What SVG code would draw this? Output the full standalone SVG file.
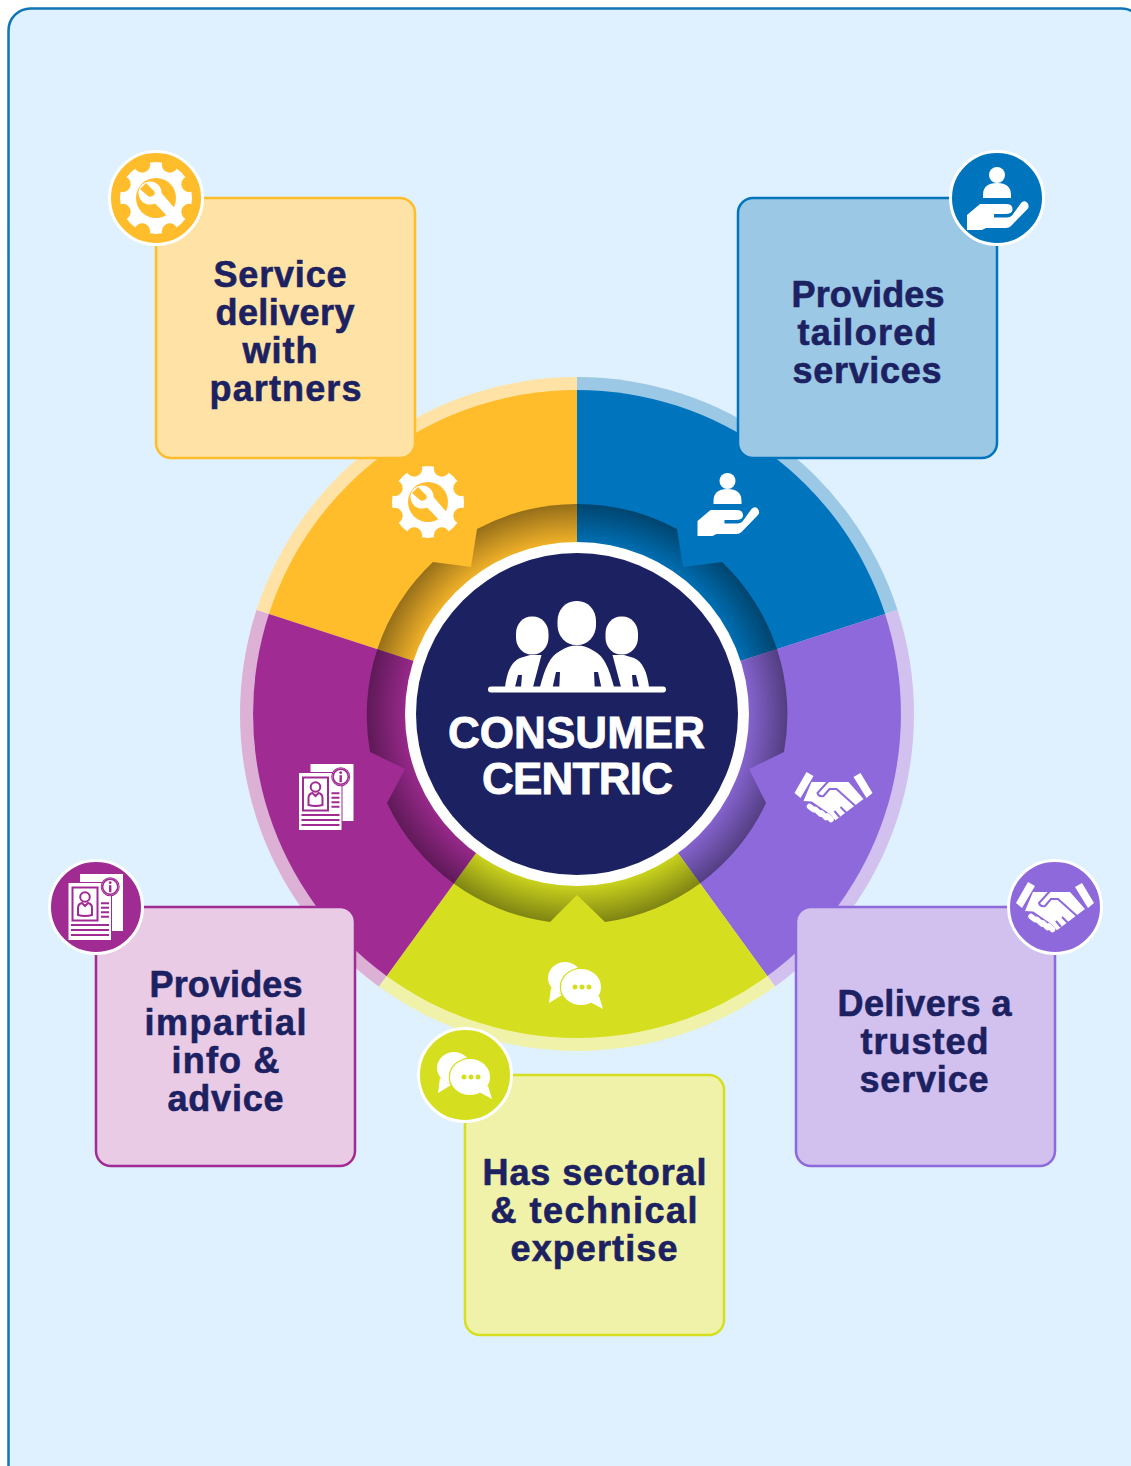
<svg xmlns="http://www.w3.org/2000/svg" width="1131" height="1466" viewBox="0 0 1131 1466">
<style>
.lbl{font-family:"Liberation Sans",Arial,sans-serif;font-weight:700;font-size:36px;fill:#1C2161;stroke:#1C2161;stroke-width:.6;text-anchor:middle}
.ctr{font-family:"Liberation Sans",Arial,sans-serif;font-weight:700;font-size:44px;fill:#fff;stroke:#fff;stroke-width:.8;text-anchor:middle}
.box{stroke-width:2.5}
.w{fill:#fff}
.cut{fill:currentColor}
.cs{fill:none;stroke:currentColor}
.wl{fill:none;stroke:#fff;stroke-linecap:round}
</style>
<defs>
<radialGradient id="shade" gradientUnits="userSpaceOnUse" cx="577" cy="714" r="212">
<stop offset="0.8" stop-color="#000" stop-opacity="0.04"/>
<stop offset="1" stop-color="#000" stop-opacity="0.43"/>
</radialGradient>
<g id="i-gear">
<circle class="w" r="36"/>
<g class="cut">
<circle cx="13.8" cy="-33.3" r="8"/><circle cx="33.3" cy="-13.8" r="8"/><circle cx="33.3" cy="13.8" r="8"/><circle cx="13.8" cy="33.3" r="8"/>
<circle cx="-13.8" cy="33.3" r="8"/><circle cx="-33.3" cy="13.8" r="8"/><circle cx="-33.3" cy="-13.8" r="8"/><circle cx="-13.8" cy="-33.3" r="8"/>
<circle r="20"/>
</g>
<circle class="w" cx="-6" cy="-5" r="11.5"/>
<path class="w" d="M-9-3L2-9L21 13L14 21Z"/>
<path class="cut" d="M-10-15L-16-9L-8-2Q-5 0-2-3Q0-6-3-8Z"/>
<path class="w" d="M8 2L13 7L20 14L15 19L4 8Z"/>
</g>
<g id="i-hand">
<circle class="w" cy="-23" r="8"/>
<path class="w" d="M-14 0V-3Q-14-15 0-15Q14-15 14-3V0Z"/>
<path class="w" d="M-30 17L-17 6H9Q16 6 15.500 12Q15 16 8 16H-3V19.500H10Q13 19.500 15 17.500L24 5Q27 2 30 4.500Q33 8 30.500 11L14 28Q12 30 9 30H-11L-15 32H-30Z"/>
</g>
<g id="i-doc">
<rect class="w" x="-16" y="-33" width="43" height="57"/>
<rect class="w" x="-27.500" y="-24" width="42.500" height="57" style="stroke:currentColor;stroke-width:2;paint-order:stroke"/>
<rect class="cs" x="-23.500" y="-19.500" width="25" height="33" stroke-width="2"/>
<circle class="cs" cx="-11" cy="-10" r="4.800" stroke-width="2"/>
<path class="cs" d="M-18 8V1Q-18-3-14-4L-11-1L-8-4Q-4-3-4 1V8Q-11 10-18 8Z" stroke-width="2"/>
<path class="cs" d="M5-3.700H13M5 .7H13M5 5.300H13M5 9.700H13M-25 18H13M-25 23H13M-25 28H13" stroke-width="2"/>
<circle class="w" cx="14.200" cy="-20.300" r="8.500" style="stroke:currentColor;stroke-width:2;paint-order:stroke"/>
<circle class="cs" cx="14.200" cy="-20.300" r="7.600" stroke-width="1.600"/>
<circle class="cut" cx="14.200" cy="-24.300" r="1.400"/>
<rect class="cut" x="13" y="-21.800" width="2.400" height="7"/>
</g>
<g id="i-shake">
<path class="w" d="M-27-25L-20-21L-33 1L-39-4Z"/>
<path class="w" d="M27-24L20-20L33 1L39-4Z"/>
<path class="w" d="M-22-15H15L30 2L1 24L-4 18L-22 5L-30 4Z"/>
<path class="cs" d="M-5-16L-16-4Q-15 0-10-1L-4-8H3L23 10M7 10L14 17M1 14L6 20" stroke-width="2"/>
<path class="cs" d="M-29 5.500L-22 5.500L-4 18L2 25" stroke-width="2"/>
<path class="wl" d="M-24 9.500L-20 12.500M-18 12.500L-13 17M-12 16L-7.500 20.500M-6 19L-2.500 22.500" stroke-width="5.500"/>
</g>
<g id="i-chat">
<ellipse class="w" cx="-11" cy="-7" rx="17" ry="16"/>
<path class="w" d="M-25 3L-27 18L-14 10Z"/>
<ellipse class="w" cx="5" cy="2" rx="20" ry="18" style="stroke:currentColor;stroke-width:2.500;paint-order:stroke"/>
<path class="w" d="M14 17L27 24L23 11Z"/>
<circle class="cut" cx="-1" cy="2" r="2.500"/><circle class="cut" cx="6" cy="2" r="2.500"/><circle class="cut" cx="13" cy="2" r="2.500"/>
</g>
</defs>

<rect id="page" x="8.500" y="8.500" width="1135" height="1500" rx="22" fill="#DFF1FE" stroke="#0F75B5" stroke-width="2.500"/>

<g id="wheel">
<path fill="#FFE3A6" d="M577 714V377A337 337 0 0 0 256.500 609.900Z"/>
<path fill="#9BC8E5" d="M577 714V377A337 337 0 0 1 897.500 609.900Z"/>
<path fill="#D2C0EF" d="M577 714L897.500 609.900A337 337 0 0 1 775.100 986.600Z"/>
<path fill="#EFF2A8" d="M577 714L775.100 986.600A337 337 0 0 1 378.900 986.600Z"/>
<path fill="#DDB0D6" d="M577 714L378.900 986.600A337 337 0 0 1 256.500 609.900Z"/>
<path fill="#FFBC2B" d="M577 714V390A324 324 0 0 0 268.900 613.900Z"/>
<path fill="#0075BD" d="M577 714V390A324 324 0 0 1 885.100 613.900Z"/>
<path fill="#8D69DB" d="M577 714L885.100 613.900A324 324 0 0 1 767.400 976.100Z"/>
<path fill="#D6DF1F" d="M577 714L767.400 976.100A324 324 0 0 1 386.600 976.100Z"/>
<path fill="#A02B93" d="M577 714L386.600 976.100A324 324 0 0 1 268.900 613.900Z"/>
<path fill="url(#shade)" d="M577 504A210 210 0 0 1 677 529L683 567L722 562A210 210 0 0 1 784 752L749 769L766 803A210 210 0 0 1 605 922L577 895L550 922A210 210 0 0 1 387 803L405 769L370 752A210 210 0 0 1 433 562L471 567L477 529A210 210 0 0 1 577 504Z"/>
<use href="#i-gear" x="428" y="502" color="#FFBC2B"/>
<use href="#i-hand" x="727.500" y="504" color="#0075BD"/>
<use href="#i-shake" x="833.500" y="797" color="#8D69DB"/>
<use href="#i-chat" x="576" y="985" color="#D6DF1F"/>
<use href="#i-doc" x="326.500" y="797" color="#A02B93"/>
</g>

<g id="center">
<circle cx="577" cy="714" r="172" fill="#fff"/>
<circle cx="577" cy="714" r="161" fill="#1C2161"/>
<rect class="w" x="516" y="616.500" width="32.500" height="38" rx="15.500" ry="17"/>
<rect class="w" x="605.500" y="616.500" width="32.500" height="38" rx="15.500" ry="17"/>
<rect class="w" x="557.500" y="601" width="38.500" height="44" rx="18.500" ry="20"/>
<path class="w" d="M505 687C507 672 511 662 520 658L530 655H541.500L533 687Z"/>
<path class="w" d="M649 687C647 672 643 662 634 658L624 655H612.500L621 687Z"/>
<path class="w" d="M540 687C545 668 550 656 560 651C566 647 571 645.500 577 645.500C583 645.500 588 647 594 651C604 656 609 668 614 687Z"/>
<path fill="#1C2161" d="M515 687L518 675H522L521 687ZM639 687L636 675H632L633 687ZM552.700 687L556 672H560L559.300 687ZM601.300 687L598 672H594L594.700 687Z"/>
<path class="wl" d="M491 689.500H663" stroke-width="6"/>
<text class="ctr" x="576.500" y="748" textLength="257">CONSUMER</text>
<text class="ctr" x="577.500" y="794" textLength="191">CENTRIC</text>
</g>

<g id="node-partners">
<rect class="box" x="156" y="198" width="259" height="260" rx="15" fill="#FFE3A6" stroke="#FFBC2B"/>
<circle cx="156" cy="198" r="46.500" fill="#FFBC2B" stroke="#fff" stroke-width="3"/>
<use href="#i-gear" x="156" y="198" color="#FFBC2B"/>
<text class="lbl" x="280" y="287" textLength="133">Service</text>
<text class="lbl" x="285" y="325" textLength="139">delivery</text>
<text class="lbl" x="280" y="363" textLength="75">with</text>
<text class="lbl" x="285.500" y="401" textLength="152">partners</text>
</g>

<g id="node-tailored">
<rect class="box" x="738" y="198" width="259" height="260" rx="15" fill="#9BC8E5" stroke="#0075BD"/>
<circle cx="997" cy="198" r="46.500" fill="#0075BD" stroke="#fff" stroke-width="3"/>
<use href="#i-hand" x="997" y="198" color="#0075BD"/>
<text class="lbl" x="868" y="307" textLength="153">Provides</text>
<text class="lbl" x="867" y="345" textLength="139">tailored</text>
<text class="lbl" x="867" y="383" textLength="149">services</text>
</g>

<g id="node-trusted">
<rect class="box" x="796" y="907" width="259" height="259" rx="15" fill="#D2C0EF" stroke="#8D69DB"/>
<circle cx="1055" cy="907" r="46.500" fill="#8D69DB" stroke="#fff" stroke-width="3"/>
<use href="#i-shake" x="1055" y="907" color="#8D69DB"/>
<text class="lbl" x="924.500" y="1016" textLength="174">Delivers a</text>
<text class="lbl" x="924.500" y="1054" textLength="128">trusted</text>
<text class="lbl" x="924" y="1092" textLength="129">service</text>
</g>

<g id="node-expertise">
<rect class="box" x="465" y="1075" width="259" height="260" rx="15" fill="#EFF2A8" stroke="#D6DF1F"/>
<circle cx="465" cy="1075" r="46.500" fill="#D6DF1F" stroke="#fff" stroke-width="3"/>
<use href="#i-chat" x="465" y="1075" color="#D6DF1F"/>
<text class="lbl" x="594.500" y="1185" textLength="224">Has sectoral</text>
<text class="lbl" x="594" y="1223" textLength="207">&amp; technical</text>
<text class="lbl" x="594" y="1261" textLength="167">expertise</text>
</g>

<g id="node-impartial">
<rect class="box" x="96" y="907" width="259" height="259" rx="15" fill="#E9CBE6" stroke="#A02B93"/>
<circle cx="96" cy="907" r="46.500" fill="#A02B93" stroke="#fff" stroke-width="3"/>
<use href="#i-doc" x="96" y="907" color="#A02B93"/>
<text class="lbl" x="226" y="997" textLength="153">Provides</text>
<text class="lbl" x="225.500" y="1035" textLength="162">impartial</text>
<text class="lbl" x="225.500" y="1073" textLength="108">info &amp;</text>
<text class="lbl" x="225.500" y="1111" textLength="116">advice</text>
</g>
</svg>
